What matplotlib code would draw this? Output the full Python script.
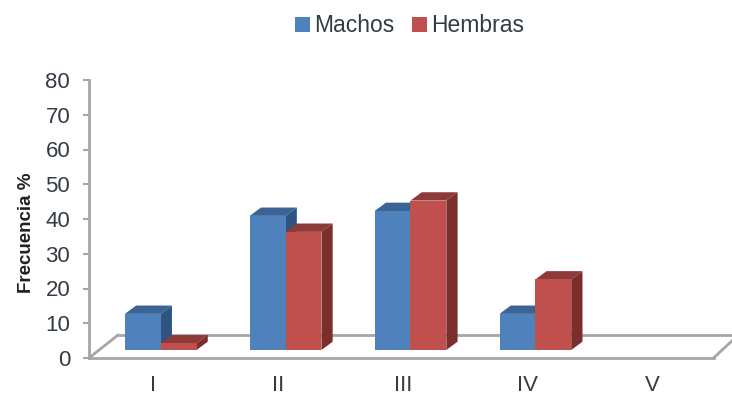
import matplotlib
matplotlib.use("Agg")
import matplotlib.pyplot as plt
from matplotlib.patches import Polygon
from matplotlib.transforms import ScaledTranslation

categories = ["I", "II", "III", "IV", "V"]
machos = [10.4, 38.6, 40.0, 10.4, 0]
hembras = [1.9, 34.0, 43.0, 20.3, 0]
y_ticks = [0, 10, 20, 30, 40, 50, 60, 70, 80]

BLUE = ("#4F81BD", "#3A6496", "#2F5480")
RED = ("#C0504D", "#8E3A38", "#7A2F2D")
GREY = "#A6A6A6"
TEXT = "#333B45"

plt.rcParams["font.family"] = ["Liberation Sans", "DejaVu Sans"]

W, H = 732, 395
fig = plt.figure(figsize=(W / 100, H / 100), dpi=100)
ax = fig.add_axes([89 / W, 1 - 358 / H, 624.5 / W, 278 / H])
ax.set_xlim(-0.5, 4.5)
ax.set_ylim(0, 80)

# pseudo-3D geometry, in data units
bar_w = 0.287
shift = 0.074
base = 2.3
depth_x = 0.09
depth_y = 2.4
floor_x = 0.232
floor_y = 6.6


def draw_bar(x_left, value, shades, zorder):
    """Front face through ax.bar, with a top and a side parallelogram behind it."""
    if value <= 0:
        return None
    x_right = x_left + bar_w
    top = base + value
    ax.add_patch(Polygon(
        [(x_left, top), (x_right, top), (x_right + depth_x, top + depth_y), (x_left + depth_x, top + depth_y)],
        closed=True, fc=shades[1], ec="none", zorder=zorder, clip_on=False))
    ax.add_patch(Polygon(
        [(x_right, base), (x_right + depth_x, base + depth_y), (x_right + depth_x, top + depth_y), (x_right, top)],
        closed=True, fc=shades[2], ec="none", zorder=zorder, clip_on=False))
    return ax.bar(x_left, value, width=bar_w, bottom=base, align="edge",
                  color=shades[0], zorder=zorder + 0.1)


# floor parallelogram
ax.plot([-0.5 + floor_x, 4.65], [floor_y, floor_y], color=GREY, lw=2.0, zorder=1, clip_on=False)
ax.plot([4.5, 4.65], [0, 5.0], color=GREY, lw=2.0, zorder=1, clip_on=False)
ax.plot([-0.5, -0.5 + floor_x], [0, floor_y], color=GREY, lw=2.0, zorder=1, clip_on=False)

for i, (m, h) in enumerate(zip(machos, hembras)):
    draw_bar(i + shift - bar_w, m, BLUE, 2 + i)
    draw_bar(i + shift, h, RED, 2.4 + i)

for side in ("top", "right"):
    ax.spines[side].set_visible(False)
for side in ("left", "bottom"):
    ax.spines[side].set_color(GREY)
    ax.spines[side].set_linewidth(2.0)

ax.set_yticks(y_ticks)
ax.set_xticks(range(len(categories)))
ax.set_xticklabels(categories)
ax.tick_params(axis="y", length=4.5, width=1.5, color=GREY, labelsize=16, labelcolor=TEXT, pad=9)
ax.tick_params(axis="x", length=0, labelsize=16, labelcolor=TEXT, pad=12)

# category labels sit slightly right of the slot centre
nudge = ScaledTranslation(1.5 / 100, 0, fig.dpi_scale_trans)
for label in ax.get_xticklabels():
    label.set_transform(label.get_transform() + nudge)

ax.set_ylabel("Frecuencia %", fontsize=13.5, fontweight="bold", color="#222222")
ax.yaxis.set_label_coords((35 - 89) / 624.5, (358 - 233) / 278)

handles = [plt.Rectangle((0, 0), 1, 1, fc=BLUE[0]), plt.Rectangle((0, 0), 1, 1, fc=RED[0])]
fig.legend(handles, ["Machos", "Hembras"], loc="center", bbox_to_anchor=(409.5 / W, 1 - 26 / H),
           ncol=2, frameon=False, fontsize=16.5, labelcolor=TEXT, handlelength=0.66, handleheight=0.66,
           handletextpad=0.15, columnspacing=0.8, borderpad=0)

fig.savefig("out.png", dpi=100, facecolor="white")
